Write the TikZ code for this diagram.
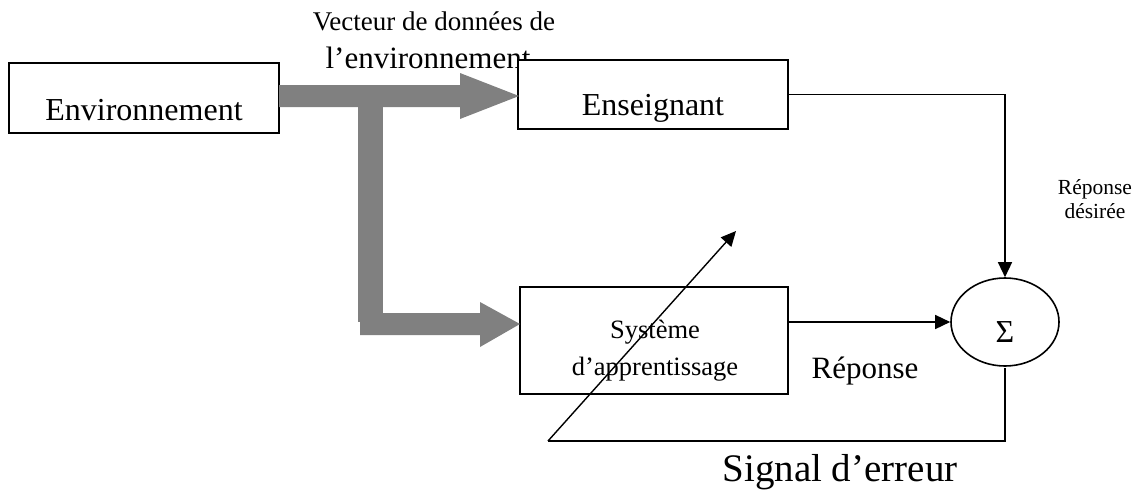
\documentclass[tikz,border=0pt]{standalone}
\usepackage{fontspec}
\setmainfont{Liberation Serif}
\usetikzlibrary{arrows.meta,shapes.geometric}
\definecolor{fatgray}{RGB}{128,128,128}
\begin{document}
\begin{tikzpicture}[x=1pt,y=-1pt,
  box/.style={draw,fill=white,line width=1.6pt,inner sep=0pt},
  ln/.style={line width=1.4pt},
  tipped/.style={-{Triangle[length=15pt,width=14pt]}},
  lbl/.style={anchor=base,inner sep=0pt},
  big/.style={font=\fontsize{32}{38}\selectfont},
]
\useasboundingbox (0,0) rectangle (1145,495);
% labels behind boxes
\node[lbl,font=\fontsize{27}{32}\selectfont] (vec1) at (434,31) {Vecteur de données de};
\node[lbl,font=\fontsize{31}{36}\selectfont] (vec2) at (428,68) {l’environnement};
% boxes
\node[box,minimum width=270pt,minimum height=70pt] (env) at (144,98) {};
\node[box,minimum width=270pt,minimum height=69pt] (ens) at (653,94.5) {};
\node[box,minimum width=268pt,minimum height=107pt] (sys) at (654,340.5) {};
\node[draw,ellipse,line width=1.6pt,minimum width=108pt,minimum height=88pt,inner sep=0pt] (sig) at (1005,322) {};
% texts in boxes
\node[lbl,big] (envt) at (144,120) {Environnement};
\node[lbl,big] (enst) at (653,115) {Enseignant};
\node[lbl,font=\fontsize{26.5}{37}\selectfont] (syst1) at (655,338) {Système};
\node[lbl,font=\fontsize{26.5}{37}\selectfont] (syst2) at (655,375) {d’apprentissage};
\node[lbl,font=\fontsize{32}{38}\selectfont] (sigt) at (1005,342) {Σ};
% fat gray arrows
\fill[fatgray] (279,85) -- (460,85) -- (460,73) -- (519,96) -- (460,119) -- (460,107) -- (279,107) -- cycle;
\fill[fatgray] (358,107) rectangle (383,322);
\fill[fatgray] (360,313) -- (480,313) -- (480,302) -- (520,324) -- (480,347) -- (480,335) -- (360,335) -- cycle;
% connectors
\draw[ln,tipped] (ens.east) -| (sig.north);
\draw[ln,tipped] (sys.east |- sig.west) -- (sig.west);
\coordinate (fb0) at (1005,368);
\coordinate (fb1) at (1005,441);
\coordinate (fb2) at (548,441);
\coordinate (fb3) at (736,231);
\draw[ln] (fb0) -- (fb1) -- (fb2);
\draw[ln,tipped] (fb2) -- (fb3);
% other labels
\node[lbl,font=\fontsize{31}{36}\selectfont] (rep) at (865,378) {Réponse};
\node[lbl,font=\fontsize{21.5}{24}\selectfont] (rd1) at (1095,194) {Réponse};
\node[lbl,font=\fontsize{21.5}{24}\selectfont] (rd2) at (1095,218) {désirée};
\node[lbl,font=\fontsize{39}{44}\selectfont] (err) at (840,481) {Signal d’erreur};
\end{tikzpicture}
\end{document}
